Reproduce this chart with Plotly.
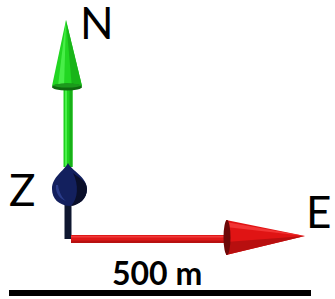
import plotly.graph_objects as go

# ---- data (diagram units = screen pixels, y up) ----
axis_names = ["N", "Z", "E"]
axis_colors = ["#1ed21e", "#13205e", "#e01010"]
origin = [68, 60]
north_length = 219      # origin -> tip of N arrow
east_length = 237       # origin -> tip of E arrow
scale_label = "500 m"
scale_bar_length = 302

W, H = 335, 299
fig = go.Figure()
shapes = []

def rect(x0, y0, x1, y1, color):
    shapes.append(dict(type="rect", xref="x", yref="y", x0=x0, y0=y0, x1=x1, y1=y1,
                       fillcolor=color, line=dict(width=0), layer="above"))

def path(d, color, lw=0, lc=None):
    shapes.append(dict(type="path", xref="x", yref="y", path=d, fillcolor=color,
                       line=dict(width=lw, color=lc or color), layer="above"))

def ellipse(cx, cy, rx, ry, color):
    shapes.append(dict(type="circle", xref="x", yref="y", x0=cx - rx, x1=cx + rx,
                       y0=cy - ry, y1=cy + ry, fillcolor=color, line=dict(width=0), layer="above"))

ox, oy = origin
# ---- dark Z stem (origin up to blob) ----
rect(ox - 3.5, oy, ox + 3.5, oy + 36, "#0f1730")

# ---- N arrow (green) ----
n_tip = oy + north_length
base_y = n_tip - 68
rect(ox - 4.5, oy + 72, ox + 4.5, base_y, "#1ed21e")
rect(ox + 1.5, oy + 72, ox + 4.5, base_y, "#17b017")
rect(ox - 3, oy + 72, ox - 1, base_y, "#4af04a")
path(f"M {ox-16},{base_y+2} L {ox-2},{n_tip} L {ox+14},{base_y+2} Q {ox-1},{base_y-6} {ox-16},{base_y+2} Z", "#22d622")
path(f"M {ox+4},{base_y} L {ox-2},{n_tip} L {ox+14},{base_y+2} Z", "#19b419")
path(f"M {ox-10},{base_y+2} L {ox-2},{n_tip} L {ox-4},{base_y} Z", "#48ee48")
ellipse(ox - 1, base_y + 1, 15, 3.5, "#0f6a0f")
ellipse(ox - 1, base_y + 2.5, 13.5, 2, "#1c9a1c")

# ---- Z arrow (blue teardrop pointing at viewer) ----
cx, top = ox + 1, oy + 76
path(f"M {cx-1},{top} C {cx+3},{top-8} {cx+18},{top-14} {cx+18},{top-26} "
     f"C {cx+18},{top-36} {cx+10},{top-42} {cx},{top-43} "
     f"C {cx-10},{top-42} {cx-17},{top-36} {cx-17},{top-26} "
     f"C {cx-17},{top-14} {cx-5},{top-8} {cx-1},{top} Z", "#13205e")
path(f"M {cx+4},{top-10} C {cx+10},{top-15} {cx+18},{top-18} {cx+18},{top-26} "
     f"C {cx+18},{top-36} {cx+10},{top-42} {cx+2},{top-43} "
     f"C {cx+9},{top-36} {cx+10},{top-22} {cx+4},{top-10} Z", "#0a0f2a")
path(f"M {cx-11},{top-22} C {cx-10},{top-30} {cx-6},{top-36} {cx-3},{top-38} "
     f"C {cx-9},{top-36} {cx-14},{top-30} {cx-13},{top-22} Z", "#2a3c8a")

# ---- E arrow (red) ----
e_tip = ox + east_length
cone_base = e_tip - 79
rect(ox + 3, oy - 4, cone_base + 2, oy + 4, "#e01818")
rect(ox + 3, oy - 4, cone_base + 2, oy - 1.5, "#b81010")
rect(ox + 3, oy + 1.5, cone_base + 2, oy + 3, "#f03a3a")
path(f"M {cone_base},{oy+19} L {e_tip},{oy+3} L {cone_base},{oy-16} Z", "#e01414")
path(f"M {cone_base},{oy-3} L {e_tip},{oy+3} L {cone_base},{oy-16} Z", "#b80f0f")
path(f"M {cone_base},{oy+12} L {e_tip},{oy+3} L {cone_base},{oy+17} Z", "#f23434")
ellipse(cone_base + 1, oy + 1.5, 3.5, 17.5, "#6e0808")

# ---- scale bar ----
rect(9, 3, 9 + scale_bar_length, 9, "#000000")

# ---- labels ----
fig.add_annotation(x=ox + 29, y=n_tip - 2, text=axis_names[0], showarrow=False,
                   font=dict(family="Lato", size=44, color="#000"), xanchor="center", yanchor="middle")
fig.add_annotation(x=22, y=110, text=axis_names[1], showarrow=False,
                   font=dict(family="Lato", size=44, color="#000"), xanchor="center", yanchor="middle")
fig.add_annotation(x=318, y=88, text=axis_names[2], showarrow=False,
                   font=dict(family="Lato", size=44, color="#000"), xanchor="center", yanchor="middle")
fig.add_annotation(x=157, y=27, text=f"<b>{scale_label}</b>", showarrow=False,
                   font=dict(family="Lato", size=32, color="#000"), xanchor="center", yanchor="middle")

fig.update_layout(
    width=W, height=H, margin=dict(l=0, r=0, t=0, b=0),
    paper_bgcolor="white", plot_bgcolor="white", showlegend=False,
    shapes=shapes,
    xaxis=dict(range=[0, W], visible=False, fixedrange=True),
    yaxis=dict(range=[0, H], visible=False, fixedrange=True),
)
fig.write_html("out.html", config={"displayModeBar": False},
               post_script="document.body.style.margin='0';document.body.style.padding='0';"
                           "document.body.style.overflow='hidden';")
